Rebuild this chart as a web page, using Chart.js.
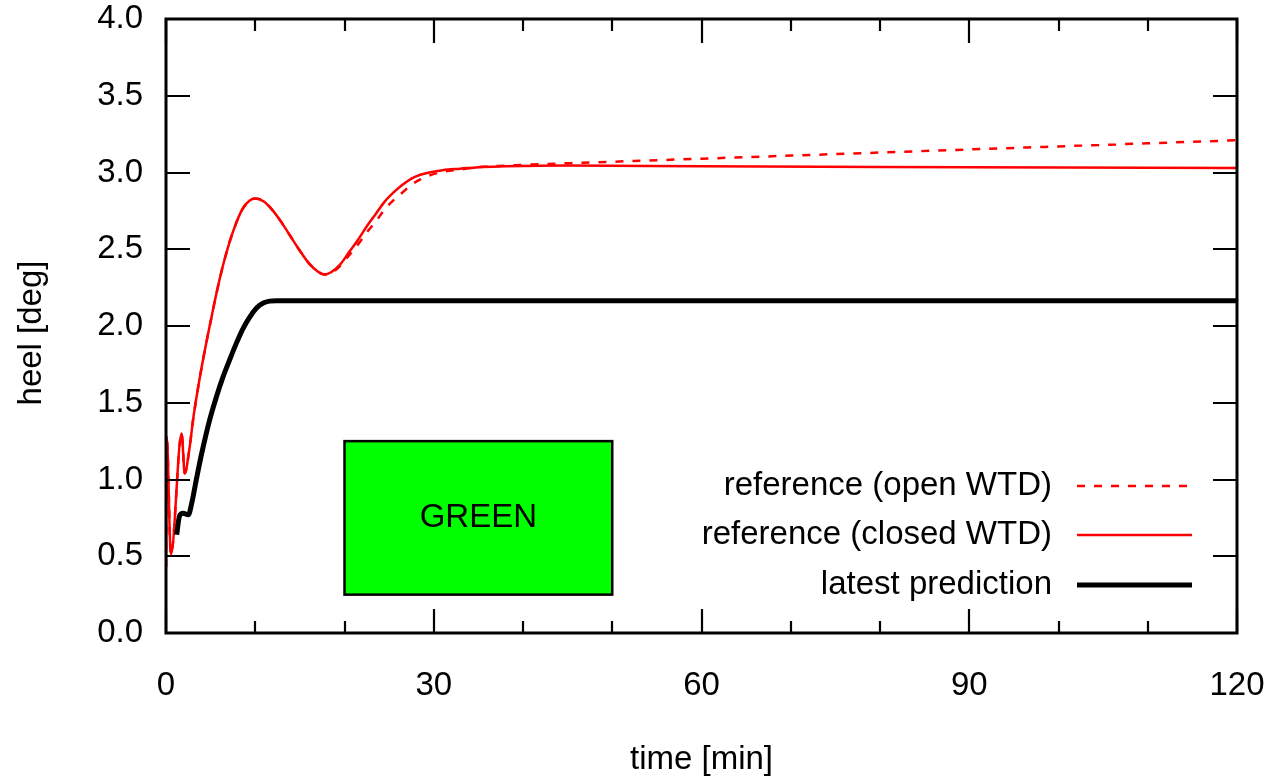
<!DOCTYPE html>
<html>
<head>
<meta charset="utf-8">
<script src="https://cdn.jsdelivr.net/npm/chart.js@4/dist/chart.umd.min.js"></script>
<style>
	body { margin: 0; background: #fff; }
	#wrap { width: 1270px; height: 779px; }
</style>
</head>
<body>
<div id="wrap"><canvas id="heelChart" width="1270" height="779"></canvas></div>
<script>
const openTime = [0, 0.08, 0.55, 1.75, 2.1, 2.6, 3.06, 3.6, 4.18, 5.0, 5.68, 6.5, 7.54, 8.66, 10.0, 11.0, 12.0, 13.0, 14.0, 15.0, 16.0, 17.0, 17.8, 18.5, 19.5, 20.5, 21.5, 22.5, 23.5, 24.5, 25.5, 26.5, 27.5, 28.5, 29.5, 31, 33, 35, 38, 40, 50, 60, 70, 80, 90, 100, 110, 120];
const openHeel = [0.43, 1.28, 0.51, 1.30, 1.04, 1.19, 1.40, 1.60, 1.79, 2.03, 2.22, 2.42, 2.62, 2.77, 2.83, 2.81, 2.75, 2.67, 2.58, 2.49, 2.41, 2.355, 2.335, 2.345, 2.39, 2.46, 2.53, 2.61, 2.68, 2.76, 2.82, 2.87, 2.92, 2.955, 2.98, 3.005, 3.02, 3.035, 3.045, 3.05, 3.07, 3.09, 3.11, 3.13, 3.15, 3.17, 3.19, 3.21];

const closedTime = [0, 0.08, 0.55, 1.75, 2.1, 2.6, 3.06, 3.6, 4.18, 5.0, 5.68, 6.5, 7.54, 8.66, 10.0, 11.0, 12.0, 13.0, 14.0, 15.0, 16.0, 17.0, 17.8, 18.5, 19.5, 20.5, 21.5, 22.5, 23.5, 24.5, 25.5, 26.5, 27.5, 28.5, 29.5, 31, 33, 35, 38, 45, 60, 90, 120];
const closedHeel = [0.43, 1.28, 0.51, 1.30, 1.04, 1.19, 1.40, 1.60, 1.79, 2.03, 2.22, 2.42, 2.62, 2.77, 2.83, 2.81, 2.75, 2.67, 2.58, 2.49, 2.41, 2.355, 2.335, 2.35, 2.40, 2.48, 2.56, 2.65, 2.73, 2.81, 2.87, 2.92, 2.96, 2.985, 3.00, 3.015, 3.025, 3.035, 3.04, 3.045, 3.04, 3.035, 3.03];

const predTime = [1.2, 1.5, 1.9, 2.5, 2.9, 3.4, 4.0, 4.9, 5.6, 6.4, 7.2, 7.9, 8.6, 9.4, 10.2, 10.9, 11.6, 12.4, 15, 30, 60, 90, 120];
const predHeel = [0.64, 0.76, 0.78, 0.77, 0.85, 1.00, 1.17, 1.39, 1.53, 1.67, 1.79, 1.89, 1.98, 2.06, 2.12, 2.15, 2.162, 2.165, 2.165, 2.165, 2.165, 2.165, 2.165];

const seriesNames = ['reference (open WTD)', 'reference (closed WTD)', 'latest prediction'];

const xTicks = [0, 30, 60, 90, 120];
const xMinorTicks = [10, 20, 40, 50, 70, 80, 100, 110];
const yTicks = [0, 0.5, 1, 1.5, 2, 2.5, 3, 3.5, 4];

// зелёный прямоугольник (в единицах осей)
const boxX = [20, 50];
const boxY = [0.25, 1.25];
const boxLabel = 'GREEN';

const xTitle = 'time [min]';
const yTitle = 'heel [deg]';

const FAMILY = '"Liberation Sans", Arial, sans-serif';
const FONT = '33px ' + FAMILY;

function toPoints(xs, ys) {
	return xs.map((x, i) => ({ x: x, y: ys[i] }));
}

// убираем отступы под подписи, чтобы поле графика стояло как в оригинале
function noPad(s) {
	s.paddingTop = 0;
	s.paddingBottom = 0;
	s.paddingLeft = 0;
	s.paddingRight = 0;
}

const framePlugin = {
	id: 'frame',
	beforeDatasetsDraw(chart) {
		const c = chart.ctx, xs = chart.scales.x, ys = chart.scales.y;
		const x1 = xs.getPixelForValue(boxX[0]), x2 = xs.getPixelForValue(boxX[1]);
		const y1 = ys.getPixelForValue(boxY[1]), y2 = ys.getPixelForValue(boxY[0]);
		c.save();
		c.fillStyle = '#00ff00';
		c.fillRect(x1, y1, x2 - x1, y2 - y1);
		c.strokeStyle = '#000';
		c.lineWidth = 2.5;
		c.strokeRect(x1, y1, x2 - x1, y2 - y1);
		c.fillStyle = '#000';
		c.font = FONT;
		c.textAlign = 'center';
		c.textBaseline = 'middle';
		c.fillText(boxLabel, (x1 + x2) / 2, (y1 + y2) / 2);
		c.restore();
	},
	afterDraw(chart) {
		const c = chart.ctx, a = chart.chartArea;
		const xs = chart.scales.x, ys = chart.scales.y;
		c.save();
		c.strokeStyle = '#000';
		c.lineWidth = 2.2;
		c.beginPath();
		// метки внутрь, с зеркалом сверху и справа
		yTicks.forEach(v => {
			const p = Math.round(ys.getPixelForValue(v));
			c.moveTo(a.left, p); c.lineTo(a.left + 24, p);
			c.moveTo(a.right, p); c.lineTo(a.right - 24, p);
		});
		xTicks.forEach(v => {
			const p = Math.round(xs.getPixelForValue(v));
			c.moveTo(p, a.bottom); c.lineTo(p, a.bottom - 24);
			c.moveTo(p, a.top); c.lineTo(p, a.top + 24);
		});
		xMinorTicks.forEach(v => {
			const p = Math.round(xs.getPixelForValue(v));
			c.moveTo(p, a.bottom); c.lineTo(p, a.bottom - 12);
			c.moveTo(p, a.top); c.lineTo(p, a.top + 12);
		});
		c.stroke();
		c.lineWidth = 3;
		c.strokeRect(a.left, a.top, a.right - a.left, a.bottom - a.top);

		// легенда
		c.font = FONT;
		c.fillStyle = '#000';
		c.textBaseline = 'middle';
		c.textAlign = 'right';
		const rows = [486, 535, 585];
		chart.data.datasets.forEach((ds, i) => {
			const y = rows[i];
			c.fillText(ds.label, 1052, y);
			c.beginPath();
			c.strokeStyle = ds.borderColor;
			c.lineWidth = ds.borderWidth;
			c.setLineDash(ds.borderDash || []);
			c.moveTo(1077, y);
			c.lineTo(1192, y);
			c.stroke();
		});
		c.setLineDash([]);

		// подписи осей
		c.textAlign = 'center';
		c.fillText(xTitle, (a.left + a.right) / 2, 760);
		c.translate(32, 333);
		c.rotate(-Math.PI / 2);
		c.fillText(yTitle, 0, 0);
		c.restore();
	}
};

const ctx = document.getElementById('heelChart').getContext('2d');

const chart = new Chart(ctx, {
	type: 'line',
	data: {
		datasets: [
			{
				label: seriesNames[0],
				data: toPoints(openTime, openHeel),
				borderColor: '#ff0000',
				borderWidth: 2.5,
				borderDash: [8, 9],
				order: 3
			},
			{
				label: seriesNames[1],
				data: toPoints(closedTime, closedHeel),
				borderColor: '#ff0000',
				borderWidth: 2.5,
				order: 2
			},
			{
				label: seriesNames[2],
				data: toPoints(predTime, predHeel),
				borderColor: '#000000',
				borderWidth: 5,
				order: 1
			}
		]
	},
	options: {
		responsive: false,
		animation: false,
		devicePixelRatio: 1,
		layout: { padding: { top: 19, right: 33, left: 0, bottom: 0 } },
		elements: {
			point: { radius: 0 },
			line: { cubicInterpolationMode: 'monotone', fill: false }
		},
		plugins: { legend: { display: false }, tooltip: { enabled: false } },
		scales: {
			x: {
				type: 'linear',
				min: 0,
				max: 120,
				afterFit: s => { s.height = 146; noPad(s); },
				afterBuildTicks: s => { s.ticks = xTicks.map(v => ({ value: v })); },
				grid: { display: false, drawTicks: false },
				border: { display: false },
				ticks: {
					color: '#000',
					font: { family: FAMILY, size: 33 },
					padding: 33,
					maxRotation: 0
				}
			},
			y: {
				min: 0,
				max: 4,
				afterFit: s => { s.width = 166; noPad(s); },
				afterBuildTicks: s => { s.ticks = yTicks.map(v => ({ value: v })); },
				grid: { display: false, drawTicks: false },
				border: { display: false },
				ticks: {
					color: '#000',
					font: { family: FAMILY, size: 33 },
					padding: 23,
					callback: v => v.toFixed(1)
				}
			}
		}
	},
	plugins: [framePlugin]
});
</script>
</body>
</html>
